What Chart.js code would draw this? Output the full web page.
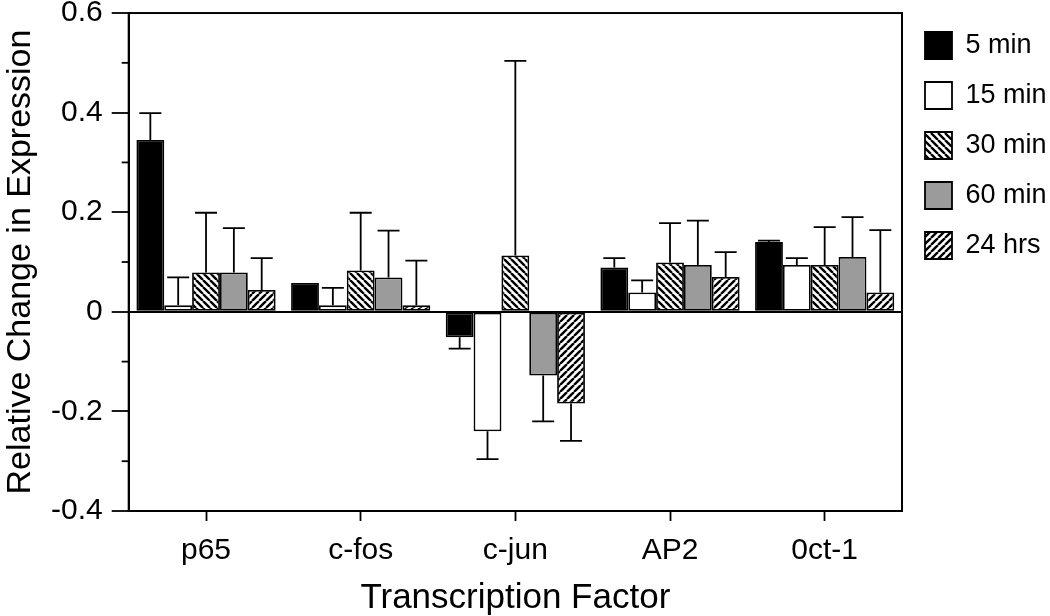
<!DOCTYPE html>
<html>
<head>
<meta charset="utf-8">
<script src="https://cdn.jsdelivr.net/npm/chart.js@4/dist/chart.umd.min.js"></script>
<style>
  html, body { margin: 0; padding: 0; background: #fff; }
  #wrap { width: 1050px; height: 616px; }
</style>
</head>
<body>
<div id="wrap"><canvas id="tf_chart"></canvas></div>
<script>
const factors = ['p65', 'c-fos', 'c-jun', 'AP2', '0ct-1'];
const timePoints = ['5 min', '15 min', '30 min', '60 min', '24 hrs'];

const min5  = [0.345, 0.058, -0.051, 0.089, 0.140];
const min15 = [0.013, 0.013, -0.240, 0.039, 0.094];
const min30 = [0.079, 0.083, 0.113, 0.099, 0.094];
const min60 = [0.079, 0.069, -0.128, 0.094, 0.110];
const hrs24 = [0.044, 0.013, -0.184, 0.070, 0.039];

// one-sided error bars, drawn away from zero
const err5  = [0.054, 0, 0.023, 0.019, 0.003];
const err15 = [0.056, 0.035, 0.056, 0.024, 0.014];
const err30 = [0.120, 0.116, 0.391, 0.079, 0.076];
const err60 = [0.089, 0.094, 0.092, 0.089, 0.080];
const err24 = [0.064, 0.090, 0.075, 0.050, 0.125];

const FONT = '"Liberation Sans", Arial, sans-serif';

function stripes(dir) {
    const size = 7;
    const c = document.createElement('canvas');
    c.width = size; c.height = size;
    const g = c.getContext('2d');
    g.fillStyle = '#fff';
    g.fillRect(0, 0, size, size);
    g.strokeStyle = '#000';
    g.lineWidth = 2.4;
    g.beginPath();
    for (let i = -size; i <= size; i += size) {
        if (dir === 'back') { // "\\\\"
            g.moveTo(i, 0); g.lineTo(i + size, size);
        } else {              // "////"
            g.moveTo(i, size); g.lineTo(i + size, 0);
        }
    }
    g.stroke();
    return g.createPattern(c, 'repeat');
}

const errorBarsAndFrame = {
    id: 'errorBarsAndFrame',
    afterDatasetsDraw(chart) {
        const ctx = chart.ctx;
        const yScale = chart.scales.y;
        ctx.save();
        ctx.strokeStyle = '#000';
        ctx.lineWidth = 1.8;
        chart.data.datasets.forEach((ds, di) => {
            const meta = chart.getDatasetMeta(di);
            meta.data.forEach((bar, i) => {
                const e = ds.errors[i];
                if (!e) return;
                const v = ds.data[i];
                const end = yScale.getPixelForValue(v >= 0 ? v + e : v - e);
                ctx.beginPath();
                ctx.moveTo(bar.x, bar.y);
                ctx.lineTo(bar.x, end);
                ctx.moveTo(bar.x - 11, end);
                ctx.lineTo(bar.x + 11, end);
                ctx.stroke();
            });
        });
        const a = chart.chartArea;
        ctx.lineWidth = 2;
        ctx.strokeRect(a.left, a.top, a.right - a.left, a.bottom - a.top);
        // short minor ticks between the labelled ones
        ctx.lineWidth = 1.8;
        yScale.ticks.forEach(t => {
            if (Math.round(t.value * 10) % 2 === 0) return;
            const py = yScale.getPixelForValue(t.value);
            ctx.beginPath();
            ctx.moveTo(a.left - 7, py);
            ctx.lineTo(a.left, py);
            ctx.stroke();
        });
        ctx.restore();
    }
};

function makeChart() {
    const sets = [
        {label: timePoints[0], data: min5,  errors: err5,  backgroundColor: '#000'},
        {label: timePoints[1], data: min15, errors: err15, backgroundColor: '#fff'},
        {label: timePoints[2], data: min30, errors: err30, backgroundColor: stripes('back')},
        {label: timePoints[3], data: min60, errors: err60, backgroundColor: '#9b9b9b'},
        {label: timePoints[4], data: hrs24, errors: err24, backgroundColor: stripes('fwd')}
    ];
    sets.forEach(s => {
        s.borderColor = '#000';
        s.borderWidth = 1.8;
        s.borderSkipped = false;
        s.categoryPercentage = 0.9;
        s.barPercentage = 1.0;
    });

    new Chart(document.getElementById('tf_chart'), {
        type: 'bar',
        data: { labels: factors, datasets: sets },
        options: {
            responsive: true,
            maintainAspectRatio: false,
            animation: false,
            layout: { padding: { top: -13, right: 0, bottom: 0, left: 0 } },
            plugins: {
                tooltip: { enabled: false },
                legend: {
                    position: 'right',
                    align: 'start',
                    maxWidth: 148,
                    title: {
                        display: true,
                        text: ' ',
                        font: { family: FONT, size: 10 },
                        padding: { top: 5, bottom: 5 }
                    },
                    labels: {
                        color: '#000',
                        font: { family: FONT, size: 27 },
                        boxWidth: 27,
                        boxHeight: 27,
                        padding: 23
                    }
                }
            },
            scales: {
                x: {
                    grid: {
                        offset: false,
                        drawOnChartArea: false,
                        tickLength: 10,
                        tickColor: '#000',
                        tickWidth: 1.8
                    },
                    border: { display: true, color: '#000', width: 2 },
                    ticks: {
                        color: '#000',
                        padding: 12,
                        font: { family: FONT, size: 30 }
                    },
                    title: {
                        display: true,
                        text: 'Transcription Factor',
                        color: '#000',
                        font: { family: FONT, size: 35, lineHeight: 1 },
                        padding: { top: 0, bottom: 0 }
                    }
                },
                y: {
                    min: -0.4,
                    max: 0.6,
                    grid: {
                        drawOnChartArea: true,
                        color: c => (c.tick && Math.abs(c.tick.value) < 1e-9) ? '#000' : 'rgba(0,0,0,0)',
                        lineWidth: 2,
                        tickLength: 17,
                        tickWidth: 1.8,
                        tickColor: c => (c.tick && Math.round(c.tick.value * 10) % 2 === 0) ? '#000' : 'rgba(0,0,0,0)'
                    },
                    border: { display: true, color: '#000', width: 2 },
                    ticks: {
                        stepSize: 0.1,
                        autoSkip: false,
                        color: '#000',
                        padding: 9,
                        font: { family: FONT, size: 30, lineHeight: 0.27 },
                        callback: v => {
                            const k = Math.round(v * 10);
                            if (k % 2 !== 0) return '';
                            return k === 0 ? '0' : (k / 10).toFixed(1);
                        }
                    },
                    title: {
                        display: true,
                        text: 'Relative Change in Expression',
                        color: '#000',
                        font: { family: FONT, size: 34, lineHeight: 1 },
                        padding: { top: 4, bottom: 4 }
                    }
                }
            }
        },
        plugins: [errorBarsAndFrame]
    });
}

makeChart();
</script>
</body>
</html>
